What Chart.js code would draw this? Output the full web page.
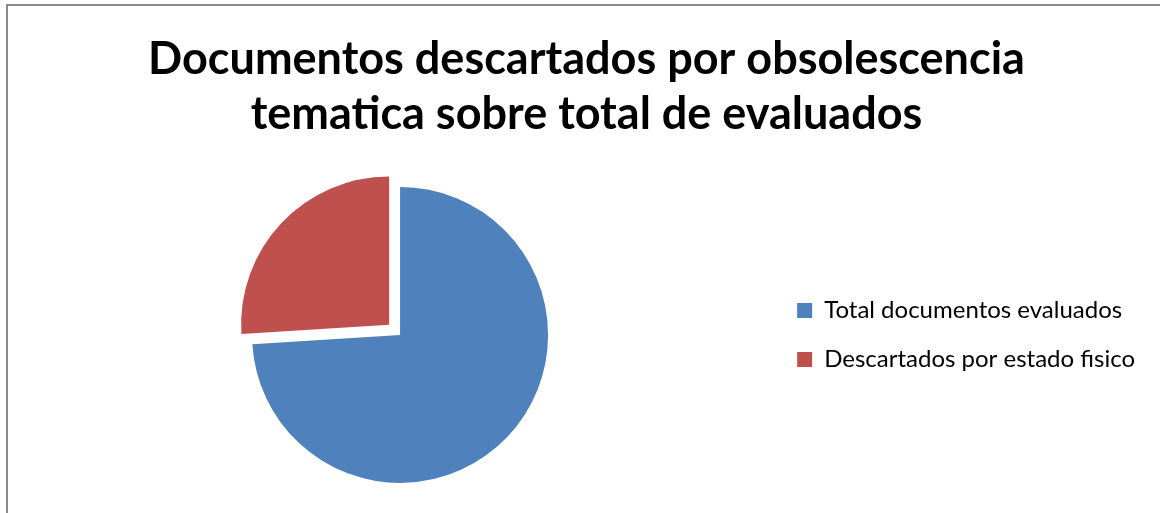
<!DOCTYPE html>
<html lang="es">
<head>
  <meta charset="UTF-8">
  <title>Documentos descartados por obsolescencia tematica</title>
  <script src="https://cdn.jsdelivr.net/npm/chart.js"></script>
  <style>
    body {
      margin: 0;
      background: #fff;
      overflow: hidden;
    }

    .wrap {
      position: relative;
      width: 1160px;
      height: 513px;
    }

    /* marco gris del grafico (solo se ven los bordes izq. y sup.) */
    .frame {
      position: absolute;
      left: 6px;
      top: 4px;
      width: 1200px;
      height: 600px;
      border: 2px solid #8a8a8a;
      pointer-events: none;
    }
  </style>
</head>
<body>

<div class="wrap">
  <canvas id="chart"></canvas>
  <div class="frame"></div>
</div>

<script>
  const titleLines = ['Documentos descartados por obsolescencia', 'tematica sobre total de evaluados'];
  const categories = ['Total documentos evaluados', 'Descartados por estado fisico'];
  const values = [74, 26];
  const colors = ['#4F81BD', '#C0504D'];

  const ctx = document.getElementById('chart').getContext('2d');

  new Chart(ctx, {
    type: 'pie',
    data: {
      labels: categories,
      datasets: [{
        data: values,
        backgroundColor: colors,
        borderWidth: 0,
        offset: [0, 60] // porcion roja separada (Chart.js divide por 4)
      }]
    },
    options: {
      responsive: true,
      maintainAspectRatio: false,
      animation: false,
      radius: 148,
      layout: {
        padding: { left: 28, right: 15, top: 0, bottom: 0 }
      },
      plugins: {
        title: {
          display: true,
          text: titleLines,
          color: '#000',
          font: { family: 'Lato', size: 45, weight: 'bold', lineHeight: 1.22 },
          padding: { top: 32, bottom: 15 }
        },
        legend: {
          position: 'right',
          fullSize: false,
          labels: {
            color: '#000',
            boxWidth: 15,
            boxHeight: 15,
            padding: 25,
            font: { family: 'Lato', size: 24 }
          }
        },
        tooltip: { enabled: false }
      }
    }
  });
</script>

</body>
</html>
